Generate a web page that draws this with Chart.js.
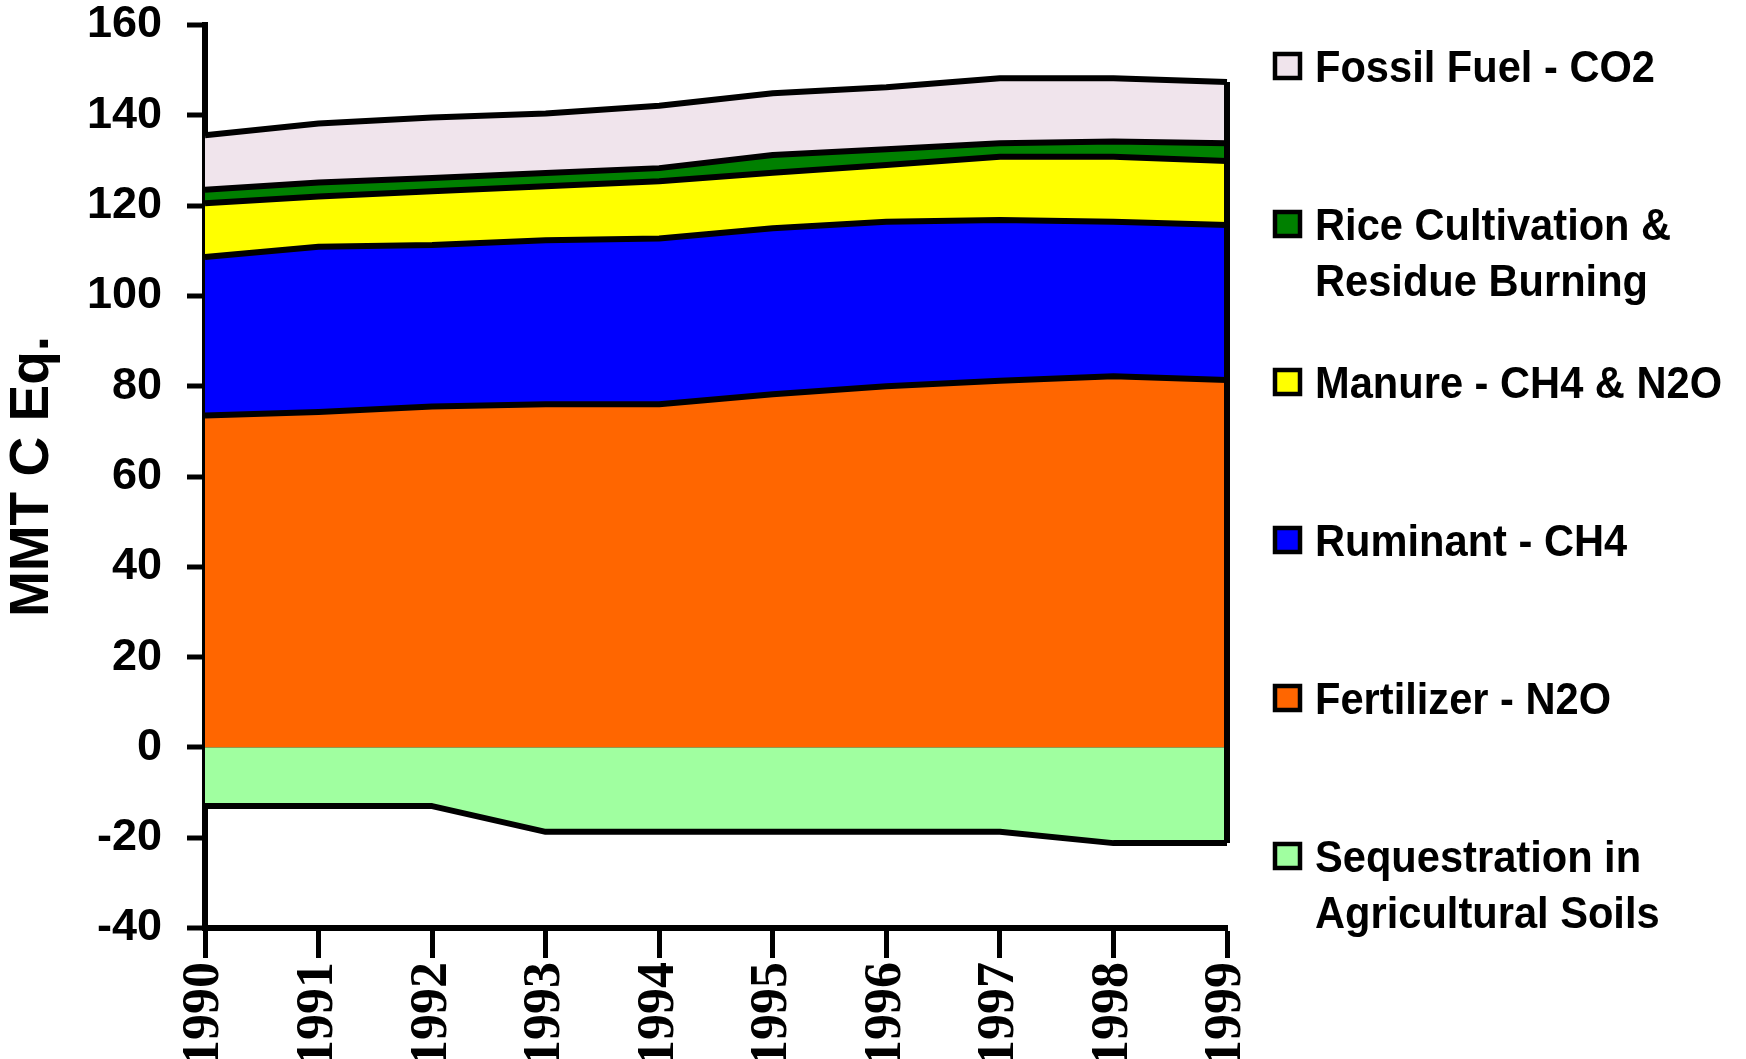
<!DOCTYPE html>
<html>
<head>
<meta charset="utf-8">
<title>Agricultural emissions</title>
<script src="https://cdn.jsdelivr.net/npm/chart.js"></script>
<style>
  html, body { margin: 0; padding: 0; background: #fff; overflow: hidden; }
  #graph-container { width: 1746px; height: 1059px; }
</style>
</head>
<body>
<div id="graph-container">
  <canvas id="results-graph" width="1746" height="1059"></canvas>
</div>
<script>
/*
  DATA : values (MMT C Eq.)
*/
var YEARS = ['1990', '1991', '1992', '1993', '1994', '1995', '1996', '1997', '1998', '1999'];
var SEQUESTRATION = [-13, -13, -13, -18.7, -18.7, -18.7, -18.7, -18.7, -21.2, -21.2];
var FERTILIZER = [73.5, 74.3, 75.5, 76.0, 76.0, 78.2, 80.0, 81.2, 82.2, 81.4];
var RUMINANT = [35.1, 36.6, 35.8, 36.3, 36.7, 36.8, 36.4, 35.6, 34.2, 34.3];
var MANURE = [11.9, 11.1, 11.9, 12.0, 12.7, 12.3, 12.6, 14.0, 14.4, 14.2];
var RICE = [3.0, 3.1, 2.9, 2.9, 2.9, 3.9, 3.5, 3.0, 3.4, 3.9];
var FOSSIL = [12.1, 13.1, 13.4, 13.2, 13.8, 13.7, 13.7, 14.4, 14.0, 13.6];

var Y_MIN = -40, Y_MAX = 160, Y_STEP = 20;
var Y_TITLE = 'MMT C Eq.';

// bottom to top, same order as the stack
var SERIES_LABELS = [
  ['Sequestration in', 'Agricultural Soils'],
  'Fertilizer - N2O',
  'Ruminant - CH4',
  'Manure - CH4 & N2O',
  ['Rice Cultivation &', 'Residue Burning'],
  'Fossil Fuel - CO2'
];
var SERIES_DATA = [SEQUESTRATION, FERTILIZER, RUMINANT, MANURE, RICE, FOSSIL];
var SERIES_COLOR = ['#A0FFA0', '#FF6600', '#0000FF', '#FFFF00', '#008000', '#F0E4EC'];
var SERIES_FILL = ['origin', 'origin', '-1', '-1', '-1', '-1'];

var SANS = '"Liberation Sans", Arial, sans-serif';
var SERIF = '"Liberation Serif", "Times New Roman", serif';

/*
  NAME : rightEdgePlugin
  ROLE : close the stack with the vertical border on the last year
*/
var rightEdgePlugin = {
  id: 'rightEdge',
  afterDatasetsDraw: function (chart) {
    var x = chart.scales.x, y = chart.scales.y;
    var last = YEARS.length - 1;
    var top = 0;
    for (var i = 0; i < SERIES_DATA.length; i++) {
      if (SERIES_DATA[i][last] > 0) top += SERIES_DATA[i][last];
    }
    var ctx = chart.ctx;
    ctx.save();
    ctx.strokeStyle = '#000';
    ctx.lineWidth = 6;
    ctx.beginPath();
    ctx.moveTo(x.getPixelForValue(last), y.getPixelForValue(SEQUESTRATION[last]));
    ctx.lineTo(x.getPixelForValue(last), y.getPixelForValue(top));
    ctx.stroke();
    ctx.restore();
  }
};

/*
  NAME : sideLegendPlugin
  ROLE : legend on the right, evenly spaced slots, top series first
*/
var sideLegendPlugin = {
  id: 'sideLegend',
  afterDraw: function (chart) {
    var ctx = chart.ctx;
    var area = chart.chartArea;
    var boxX = area.right + 46;
    var textX = area.right + 88;
    var fontSize = 45;
    ctx.save();
    ctx.font = 'bold ' + fontSize + 'px ' + SANS;
    ctx.textBaseline = 'alphabetic';
    ctx.textAlign = 'left';
    var datasets = chart.data.datasets;
    for (var i = datasets.length - 1, slot = 0; i >= 0; i--, slot++) {
      var cy = area.top + 41 + slot * 158;
      // marker
      ctx.fillStyle = datasets[i].backgroundColor;
      ctx.strokeStyle = '#000';
      ctx.lineWidth = 4.5;
      ctx.beginPath();
      ctx.rect(boxX + 2, cy - 12, 25, 24);
      ctx.fill();
      ctx.stroke();
      // text
      var lines = [].concat(datasets[i].label);
      ctx.fillStyle = '#000';
      for (var l = 0; l < lines.length; l++) {
        ctx.save();
        ctx.translate(textX, cy + 16 + l * 56);
        ctx.scale(0.925, 1);
        ctx.fillText(lines[l], 0, 0);
        ctx.restore();
      }
    }
    ctx.restore();
  }
};

function buildDatasets() {
  var sets = [];
  for (var i = 0; i < SERIES_DATA.length; i++) {
    sets.push({
      label: SERIES_LABELS[i],
      data: SERIES_DATA[i],
      backgroundColor: SERIES_COLOR[i],
      borderColor: '#000',
      borderWidth: 6,
      borderJoinStyle: 'round',
      fill: SERIES_FILL[i],
      pointRadius: 0,
      tension: 0
    });
  }
  return sets;
}

var ctx = document.getElementById('results-graph').getContext('2d');
window.myAreaChart = new Chart(ctx, {
  type: 'line',
  data: { labels: YEARS, datasets: buildDatasets() },
  plugins: [rightEdgePlugin, sideLegendPlugin],
  options: {
    responsive: false,
    animation: false,
    devicePixelRatio: 1,
    layout: { padding: { top: 25, right: 519, left: 0, bottom: 0 } },
    plugins: {
      legend: { display: false },
      tooltip: { enabled: false }
    },
    scales: {
      x: {
        offset: false,
        border: { display: true, color: '#000', width: 6 },
        grid: { drawOnChartArea: false, drawTicks: true, tickLength: 30, tickWidth: 5, tickColor: '#000' },
        ticks: {
          autoSkip: false,
          minRotation: 90,
          maxRotation: 90,
          padding: 4,
          color: '#000',
          font: { family: SERIF, weight: 'bold', size: 52, lineHeight: 1 }
        },
        afterFit: function (scale) { scale.height = 131; }
      },
      y: {
        stacked: true,
        min: Y_MIN,
        max: Y_MAX,
        z: 1,
        border: { display: true, color: '#000', width: 6 },
        grid: {
          drawOnChartArea: true,
          color: function (c) { return c.tick && c.tick.value === 0 ? '#000' : 'rgba(0,0,0,0)'; },
          lineWidth: 6,
          drawTicks: true,
          tickLength: 18,
          tickWidth: 5,
          tickColor: '#000'
        },
        ticks: {
          stepSize: Y_STEP,
          padding: 25,
          color: '#000',
          font: { family: SANS, weight: 'bold', size: 45, lineHeight: 1 }
        },
        title: {
          display: true,
          text: Y_TITLE,
          color: '#000',
          padding: { top: 0, bottom: 0 },
          font: { family: SANS, weight: 'bold', size: 55, lineHeight: 1.2 }
        },
        afterFit: function (scale) {
          scale.width = 205;
          // labels may overhang the plot, the top margin is set in layout
          scale.paddingTop = 0;
          scale.paddingBottom = 0;
        }
      }
    }
  }
});
</script>
</body>
</html>
